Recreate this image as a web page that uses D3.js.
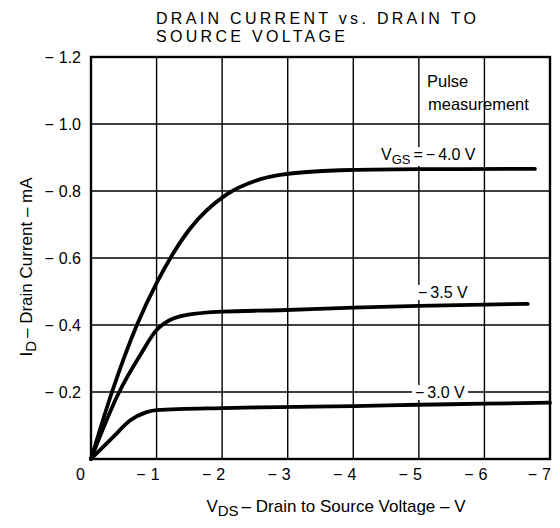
<!DOCTYPE html>
<html>
<head>
<script src="https://cdn.jsdelivr.net/npm/d3@7"></script>
<style>
  body { margin: 0; background: #fff; }
  text { font-family: "Liberation Sans", Arial, sans-serif; fill: #000; }
</style>
</head>
<body>
<svg id="canvas" width="560" height="528"></svg>
<script>
// data (V, mA)
var xTicks = [0, -1, -2, -3, -4, -5, -6, -7];
var yTicks = [-0.2, -0.4, -0.6, -0.8, -1.0, -1.2];

var vgs40V = [0, -0.32, -0.7, -1.0, -1.5, -2.07, -2.5, -2.88, -3.8, -5, -6.77];
var vgs40I = [0, -0.2, -0.4, -0.525, -0.685, -0.79, -0.83, -0.848, -0.862, -0.865, -0.866];

var vgs35V = [0, -0.43, -0.75, -1.0, -1.12, -1.46, -2, -2.88, -4, -5, -6, -6.66];
var vgs35I = [0, -0.2, -0.31, -0.385, -0.405, -0.43, -0.44, -0.444, -0.452, -0.457, -0.461, -0.463];

var vgs30V = [0, -0.34, -0.59, -0.85, -1.0, -2, -2.88, -4, -5, -6, -7];
var vgs30I = [0, -0.066, -0.114, -0.14, -0.146, -0.152, -0.155, -0.158, -0.162, -0.165, -0.168];

var svg = d3.select("#canvas");
var margin = {top: 57, left: 91};
var width = 459, height = 402;

var g = svg.append("g")
    .attr("transform", "translate(" + margin.left + "," + margin.top + ")");

var x = d3.scaleLinear().domain([0, -7]).range([0, width]);
var y = d3.scaleLinear().domain([0, -1.2]).range([height, 0]);

// grid
g.append("g").selectAll("line").data(xTicks.slice(1, -1)).enter().append("line")
    .attr("x1", function(d){ return x(d); }).attr("x2", function(d){ return x(d); })
    .attr("y1", 0).attr("y2", height)
    .attr("stroke", "#000").attr("stroke-width", 1.4);
g.append("g").selectAll("line").data(yTicks.slice(0, -1)).enter().append("line")
    .attr("y1", function(d){ return y(d); }).attr("y2", function(d){ return y(d); })
    .attr("x1", 0).attr("x2", width)
    .attr("stroke", "#000").attr("stroke-width", 1.4);

// frame
g.append("rect").attr("width", width).attr("height", height)
    .attr("fill", "none").attr("stroke", "#000").attr("stroke-width", 2.4);

// tick labels: minus sign and number as separate pieces
function minusLabel(sel, val) {
    if (val === 0) { sel.text("0"); return; }
    sel.append("tspan").text("\u2212");
    sel.append("tspan").attr("dx", 5).text(val);
}

g.append("g").selectAll("text").data(xTicks).enter().append("text")
    .attr("x", function(d){ return d === 0 ? x(d) - 6 : (d === -7 ? x(d) + 1 : x(d) + 3); })
    .attr("y", height + 21)
    .attr("text-anchor", "end")
    .style("font-size", "16px")
    .each(function(d){ minusLabel(d3.select(this), d === 0 ? 0 : Math.abs(d).toString()); });

g.append("g").selectAll("text").data(yTicks).enter().append("text")
    .attr("x", -10)
    .attr("y", function(d){ return y(d) + 5.5; })
    .attr("text-anchor", "end")
    .style("font-size", "16px")
    .each(function(d){ minusLabel(d3.select(this), Math.abs(d).toFixed(1)); });

// curves
var line = d3.line()
    .x(function(d){ return x(d[0]); })
    .y(function(d){ return y(d[1]); })
    .curve(d3.curveMonotoneX);

var series = [[vgs40V, vgs40I], [vgs35V, vgs35I], [vgs30V, vgs30I]];
series.forEach(function(s) {
    var pts = s[0].map(function(v, i){ return [v, s[1][i]]; });
    g.append("path").datum(pts)
        .attr("d", line)
        .attr("fill", "none")
        .attr("stroke", "#000")
        .attr("stroke-width", 3.8)
        .attr("stroke-linecap", "round");
});

// curve labels with white backing
function label(px, py, parts) {
    var t = g.append("text").attr("x", px).attr("y", py).style("font-size", "16px");
    parts.forEach(function(p) {
        var ts = t.append("tspan").text(p.t);
        if (p.sub) ts.attr("dy", 4).style("font-size", "13px");
        if (p.back) ts.attr("dy", -4);
        if (p.dx) ts.attr("dx", p.dx);
    });
    var b = t.node().getBBox();
    g.insert("rect", function(){ return t.node(); })
        .attr("x", b.x - 3).attr("y", b.y + 1).attr("width", b.width + 6).attr("height", b.height - 2)
        .attr("fill", "#fff");
}
label(381 - margin.left, 160 - margin.top,
      [{t: "V"}, {t: "GS", sub: true}, {t: "=", back: true, dx: 3}, {t: "\u2212", dx: 3}, {t: "4.0 V", dx: 3}]);
label(418 - margin.left, 298 - margin.top, [{t: "\u2212"}, {t: "3.5 V", dx: 3}]);
label(415 - margin.left, 398 - margin.top, [{t: "\u2212"}, {t: "3.0 V", dx: 3}]);

g.append("text").attr("x", 427 - margin.left).attr("y", 87 - margin.top)
    .style("font-size", "16.5px").text("Pulse");
g.append("text").attr("x", 428 - margin.left).attr("y", 110 - margin.top)
    .style("font-size", "16.5px").text("measurement");

// titles
svg.append("text").attr("x", 156).attr("y", 23.5)
    .style("font-size", "16px").style("letter-spacing", "3.3px")
    .text("DRAIN CURRENT vs. DRAIN TO");
svg.append("text").attr("x", 156).attr("y", 42)
    .style("font-size", "16px").style("letter-spacing", "3.3px")
    .text("SOURCE VOLTAGE");

var xt = svg.append("text").attr("x", 336).attr("y", 512)
    .attr("text-anchor", "middle").style("font-size", "17px");
xt.append("tspan").text("V");
xt.append("tspan").attr("dy", 4).style("font-size", "15px").text("DS");
xt.append("tspan").attr("dy", -4).attr("dx", 3).text("\u2013 Drain to Source Voltage \u2013 V");

var yt = svg.append("text")
    .attr("transform", "translate(32,267) rotate(-90)")
    .attr("text-anchor", "middle").style("font-size", "17px");
yt.append("tspan").text("I");
yt.append("tspan").attr("dy", 4).style("font-size", "15px").text("D");
yt.append("tspan").attr("dy", -4).attr("dx", 3).text("\u2013 Drain Current \u2013 mA");
</script>
</body>
</html>
